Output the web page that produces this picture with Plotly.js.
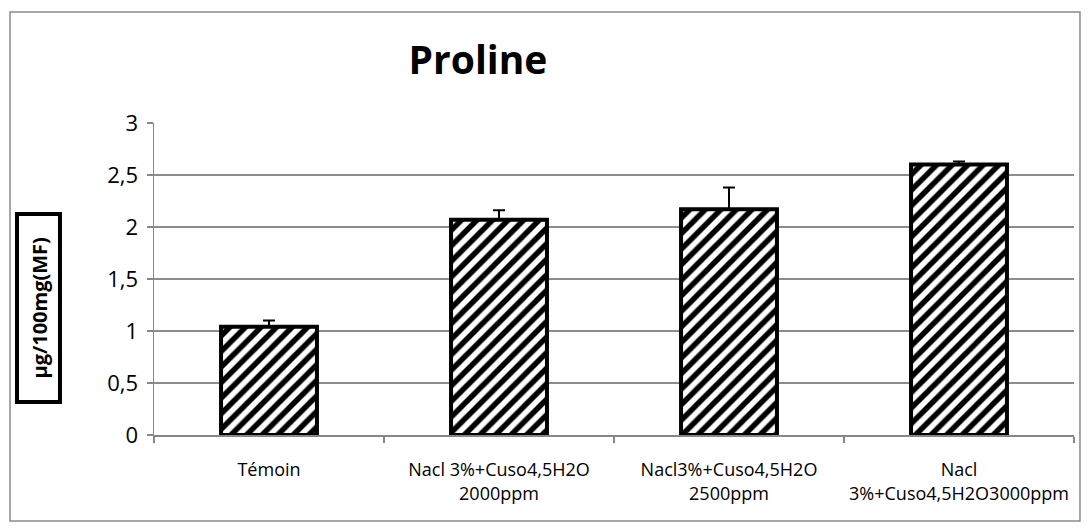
<!DOCTYPE html>
<html>
<head>
<meta charset="utf-8">
<script src="https://cdn.plot.ly/plotly-3.0.1.min.js"></script>
<style>html,body{margin:0;padding:0;background:#fff;}#chart{width:1090px;height:532px;}</style>
</head>
<body>
<div id="chart"></div>
<script>
const categories = ["Témoin", "Nacl 3%+Cuso4,5H2O<br>2000ppm", "Nacl3%+Cuso4,5H2O<br>2500ppm", "Nacl<br>3%+Cuso4,5H2O3000ppm"];
const values = [1.04, 2.07, 2.17, 2.60];
const errors = [0.06, 0.09, 0.21, 0.03];
const errorsMinus = [0, 0, 0, 0];
const titleText = "Proline";
const yTitle = "µg/100mg(MF)";
const yTickVals = [0, 0.5, 1, 1.5, 2, 2.5, 3];

const trace = {
  type: "bar",
  x: categories,
  y: values,
  width: 0.417,
  marker: {
    color: "white",
    pattern: {shape: "/", fgcolor: "black", bgcolor: "white", size: 11, solidity: 0.5, fillmode: "replace"},
    line: {color: "black", width: 4}
  },
  error_y: {type: "data", array: errors, arrayminus: errorsMinus, symmetric: false, color: "black", thickness: 2, width: 6},
  hoverinfo: "none"
};

const layout = {
  width: 1090, height: 532,
  margin: {l: 154, r: 16, t: 123, b: 97},
  paper_bgcolor: "white", plot_bgcolor: "white",
  separators: ", ",
  showlegend: false,
  font: {family: "Open Sans, sans-serif", color: "black"},
  title: {text: titleText, font: {family: "Open Sans, sans-serif", size: 39, color: "black", weight: "bold"}, x: 0.4385, xref: "container", xanchor: "center", y: 0.887, yref: "container", yanchor: "middle"},
  xaxis: {
    type: "category",
    showgrid: false,
    showline: true, linecolor: "#868686", linewidth: 1.5,
    ticks: "outside", tickson: "boundaries", ticklen: 6, tickcolor: "#868686", tickwidth: 1.5,
    tickfont: {size: 18, family: "Open Sans, sans-serif", color: "black"},
    ticklabelstandoff: 18,
    zeroline: false
  },
  yaxis: {
    range: [0, 3],
    tickvals: yTickVals,
    tickformat: ".1~f",
    showgrid: true, gridcolor: "#8c8c8c", gridwidth: 1.5,
    showline: true, linecolor: "#868686", linewidth: 1.5,
    ticks: "outside", ticklen: 6, tickcolor: "#868686", tickwidth: 1.5,
    tickfont: {size: 22, family: "Open Sans, sans-serif", color: "black"},
    ticklabelstandoff: 4,
    zeroline: false
  },
  shapes: [
    {type: "rect", xref: "paper", yref: "paper", x0: -0.1565, x1: 1.0065, y0: -0.2756, y1: 1.3558, line: {color: "#8a8a8a", width: 1.5}, layer: "below"},
    {type: "rect", xref: "paper", yref: "paper", x0: -0.1489, x1: -0.1022, y0: 0.1058, y1: 0.7083, line: {color: "black", width: 4}}
  ],
  annotations: [
    {text: "<b>" + yTitle + "</b>", xref: "paper", yref: "paper", x: -0.1255, y: 0.407, showarrow: false, textangle: -90, xanchor: "center", yanchor: "middle", font: {size: 20, family: "Open Sans, sans-serif", color: "black"}}
  ]
};

Plotly.newPlot("chart", [trace], layout, {displayModeBar: false, staticPlot: true});
</script>
</body>
</html>
